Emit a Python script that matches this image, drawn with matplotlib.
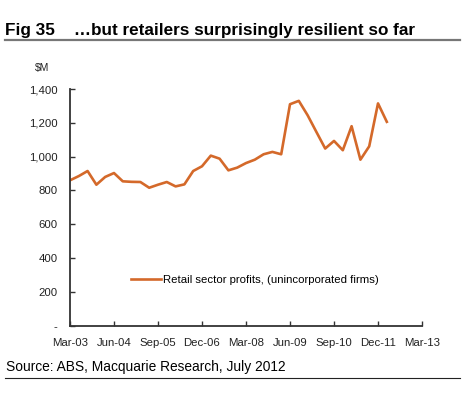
import matplotlib.pyplot as plt
from matplotlib.lines import Line2D

# quarterly data, Mar-03 .. Mar-12
profits = [860, 885, 915, 834, 880, 903, 854, 851, 850, 816,
           834, 850, 824, 836, 915, 943, 1006, 988, 919, 935,
           962, 982, 1014, 1028, 1014, 1310, 1330, 1245, 1146, 1048,
           1093, 1038, 1180, 982, 1061, 1315, 1206]
tick_labels = ['Mar-03', 'Jun-04', 'Sep-05', 'Dec-06', 'Mar-08',
               'Jun-09', 'Sep-10', 'Dec-11', 'Mar-13']
y_ticks = [0, 200, 400, 600, 800, 1000, 1200, 1400]

plt.rcParams['font.family'] = ['Liberation Sans', 'DejaVu Sans']

fig = plt.figure(figsize=(4.7, 4.05), dpi=100)
ax = fig.add_axes([0.1489, 0.1958, 0.749, 0.5844])

ax.plot(range(len(profits)), profits, color='#D4692A', lw=1.9,
        solid_joinstyle='round')

ax.set_xlim(0, 40)
ax.set_ylim(0, 1400)
ax.set_xticks(range(0, 41, 5))
ax.set_xticklabels(tick_labels)
ax.set_yticks(y_ticks)
ax.set_yticklabels(['-' if v == 0 else f'{v:,}' for v in y_ticks])

for s in ['top', 'right']:
    ax.spines[s].set_visible(False)
for s in ['left', 'bottom']:
    ax.spines[s].set_color('#333333')
    ax.spines[s].set_linewidth(1.3)
ax.tick_params(axis='both', direction='in', length=3.5, width=1,
               color='#333333', labelsize=8.2, labelcolor='#222222')
ax.tick_params(axis='x', pad=8.5)
ax.tick_params(axis='y', pad=9)

# legend inside the plot area
handle = Line2D([], [], color='#D4692A', lw=1.9)
ax.legend([handle], ['Retail sector profits, (unincorporated firms)'],
          loc='center left', bbox_to_anchor=(0.174, 0.195), frameon=False,
          fontsize=8.2, handlelength=2.6, handletextpad=0.15,
          borderaxespad=0, borderpad=0)

fig.text(35 / 470, 1 - 68 / 405, '$M', fontsize=7.5, color='#222222',
         va='center')

fig.text(5 / 470, 1 - 30 / 405,
         'Fig 35    \u2026but retailers surprisingly resilient so far',
         fontsize=12.3, fontweight='bold', va='center')
fig.add_artist(Line2D([5 / 470, 460 / 470], [1 - 40 / 405] * 2,
                      color='#777777', lw=1.6))

fig.text(6 / 470, 1 - 367 / 405, 'Source: ABS, Macquarie Research, July 2012',
         fontsize=9.9, va='center')
fig.add_artist(Line2D([5 / 470, 460 / 470], [1 - 378 / 405] * 2,
                      color='#222222', lw=0.8))

fig.savefig('out.png', dpi=100)
